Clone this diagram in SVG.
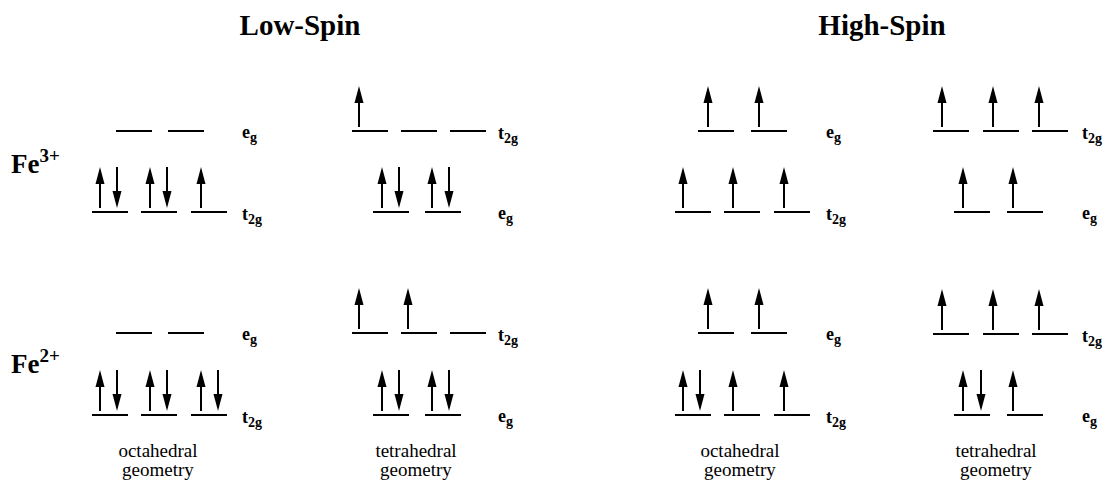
<svg xmlns="http://www.w3.org/2000/svg" xmlns:xlink="http://www.w3.org/1999/xlink" width="1110" height="482" viewBox="0 0 1110 482">
<style>
  .lvl { stroke: #000; stroke-width: 2; fill: none; }
  .title { font-family: "Liberation Serif", "Times New Roman", serif; font-weight: bold; font-size: 29px; fill: #000; }
  .ion { font-family: "Liberation Serif", "Times New Roman", serif; font-weight: bold; font-size: 27px; fill: #000; }
  .lab { font-family: "Liberation Serif", "Times New Roman", serif; font-weight: bold; font-size: 18px; fill: #000; }
  .geo { font-family: "Liberation Serif", "Times New Roman", serif; font-size: 19px; fill: #000; text-anchor: middle; }
</style>
<defs>
  <g id="up">
    <line x1="0" y1="-4" x2="0" y2="-30" stroke="#000" stroke-width="2"/>
    <polygon points="0,-45 -4.5,-28 4.5,-28" fill="#000"/>
  </g>
  <g id="dn">
    <line x1="0" y1="-45" x2="0" y2="-18" stroke="#000" stroke-width="2"/>
    <polygon points="0,-4 -4.5,-21 4.5,-21" fill="#000"/>
  </g>
</defs>

<text class="title" x="300" y="35" text-anchor="middle">Low-Spin</text>
<text class="title" x="882" y="35" text-anchor="middle">High-Spin</text>

<g id="fe3-label"><text class="ion" x="11" y="173">Fe<tspan font-size="19" dy="-11">3+</tspan></text></g>
<g id="fe2-label"><text class="ion" x="11" y="373">Fe<tspan font-size="19" dy="-11">2+</tspan></text></g>

<!-- Low-spin octahedral Fe3+ -->
<g id="ls-oct-fe3">
  <line class="lvl" x1="116" y1="131" x2="152" y2="131"/>
  <line class="lvl" x1="168" y1="131" x2="204" y2="131"/>
  <line class="lvl" x1="92" y1="212" x2="128" y2="212"/>
  <line class="lvl" x1="141" y1="212" x2="177" y2="212"/>
  <line class="lvl" x1="191" y1="212" x2="227" y2="212"/>
  <use xlink:href="#up" x="100" y="212"/><use xlink:href="#dn" x="117" y="212"/>
  <use xlink:href="#up" x="150" y="212"/><use xlink:href="#dn" x="167" y="212"/>
  <use xlink:href="#up" x="201" y="212"/>
  <text class="lab" x="242" y="138">e<tspan font-size="14" dy="4">g</tspan></text>
  <text class="lab" x="242" y="220">t<tspan font-size="14" dy="4">2g</tspan></text>
</g>

<!-- Low-spin octahedral Fe2+ -->
<g id="ls-oct-fe2">
  <line class="lvl" x1="116" y1="333" x2="152" y2="333"/>
  <line class="lvl" x1="168" y1="333" x2="204" y2="333"/>
  <line class="lvl" x1="92" y1="415" x2="128" y2="415"/>
  <line class="lvl" x1="141" y1="415" x2="177" y2="415"/>
  <line class="lvl" x1="191" y1="415" x2="227" y2="415"/>
  <use xlink:href="#up" x="100" y="415"/><use xlink:href="#dn" x="117" y="415"/>
  <use xlink:href="#up" x="150" y="415"/><use xlink:href="#dn" x="167" y="415"/>
  <use xlink:href="#up" x="201" y="415"/><use xlink:href="#dn" x="218" y="415"/>
  <text class="lab" x="242" y="340">e<tspan font-size="14" dy="4">g</tspan></text>
  <text class="lab" x="242" y="423">t<tspan font-size="14" dy="4">2g</tspan></text>
  <text class="geo" x="158" y="457">octahedral</text>
  <text class="geo" x="158" y="476">geometry</text>
</g>

<!-- Low-spin tetrahedral Fe3+ -->
<g id="ls-tet-fe3">
  <line class="lvl" x1="352" y1="131" x2="388" y2="131"/>
  <line class="lvl" x1="401" y1="131" x2="437" y2="131"/>
  <line class="lvl" x1="450" y1="131" x2="486" y2="131"/>
  <line class="lvl" x1="373" y1="212" x2="409" y2="212"/>
  <line class="lvl" x1="425" y1="212" x2="461" y2="212"/>
  <use xlink:href="#up" x="359" y="131"/>
  <use xlink:href="#up" x="382" y="212"/><use xlink:href="#dn" x="399" y="212"/>
  <use xlink:href="#up" x="432" y="212"/><use xlink:href="#dn" x="449" y="212"/>
  <text class="lab" x="498" y="139">t<tspan font-size="14" dy="4">2g</tspan></text>
  <text class="lab" x="498" y="219">e<tspan font-size="14" dy="4">g</tspan></text>
</g>

<!-- Low-spin tetrahedral Fe2+ -->
<g id="ls-tet-fe2">
  <line class="lvl" x1="352" y1="333" x2="388" y2="333"/>
  <line class="lvl" x1="401" y1="333" x2="437" y2="333"/>
  <line class="lvl" x1="450" y1="333" x2="486" y2="333"/>
  <line class="lvl" x1="373" y1="415" x2="409" y2="415"/>
  <line class="lvl" x1="425" y1="415" x2="461" y2="415"/>
  <use xlink:href="#up" x="359" y="333"/><use xlink:href="#up" x="408" y="333"/>
  <use xlink:href="#up" x="382" y="415"/><use xlink:href="#dn" x="399" y="415"/>
  <use xlink:href="#up" x="432" y="415"/><use xlink:href="#dn" x="449" y="415"/>
  <text class="lab" x="498" y="341">t<tspan font-size="14" dy="4">2g</tspan></text>
  <text class="lab" x="498" y="422">e<tspan font-size="14" dy="4">g</tspan></text>
  <text class="geo" x="416" y="457">tetrahedral</text>
  <text class="geo" x="416" y="476">geometry</text>
</g>

<!-- High-spin octahedral Fe3+ -->
<g id="hs-oct-fe3">
  <line class="lvl" x1="698" y1="131" x2="734" y2="131"/>
  <line class="lvl" x1="751" y1="131" x2="787" y2="131"/>
  <line class="lvl" x1="675" y1="212" x2="711" y2="212"/>
  <line class="lvl" x1="724" y1="212" x2="760" y2="212"/>
  <line class="lvl" x1="774" y1="212" x2="810" y2="212"/>
  <use xlink:href="#up" x="708" y="131"/><use xlink:href="#up" x="759" y="131"/>
  <use xlink:href="#up" x="683" y="212"/><use xlink:href="#up" x="733" y="212"/><use xlink:href="#up" x="784" y="212"/>
  <text class="lab" x="826" y="138">e<tspan font-size="14" dy="4">g</tspan></text>
  <text class="lab" x="826" y="220">t<tspan font-size="14" dy="4">2g</tspan></text>
</g>

<!-- High-spin octahedral Fe2+ -->
<g id="hs-oct-fe2">
  <line class="lvl" x1="698" y1="333" x2="734" y2="333"/>
  <line class="lvl" x1="751" y1="333" x2="787" y2="333"/>
  <line class="lvl" x1="675" y1="415" x2="711" y2="415"/>
  <line class="lvl" x1="724" y1="415" x2="760" y2="415"/>
  <line class="lvl" x1="774" y1="415" x2="810" y2="415"/>
  <use xlink:href="#up" x="708" y="333"/><use xlink:href="#up" x="759" y="333"/>
  <use xlink:href="#up" x="683" y="415"/><use xlink:href="#dn" x="700" y="415"/>
  <use xlink:href="#up" x="733" y="415"/><use xlink:href="#up" x="784" y="415"/>
  <text class="lab" x="826" y="340">e<tspan font-size="14" dy="4">g</tspan></text>
  <text class="lab" x="826" y="423">t<tspan font-size="14" dy="4">2g</tspan></text>
  <text class="geo" x="740" y="457">octahedral</text>
  <text class="geo" x="740" y="476">geometry</text>
</g>

<!-- High-spin tetrahedral Fe3+ -->
<g id="hs-tet-fe3">
  <line class="lvl" x1="933" y1="131" x2="969" y2="131"/>
  <line class="lvl" x1="983" y1="131" x2="1019" y2="131"/>
  <line class="lvl" x1="1032" y1="131" x2="1068" y2="131"/>
  <line class="lvl" x1="954" y1="212" x2="990" y2="212"/>
  <line class="lvl" x1="1007" y1="212" x2="1043" y2="212"/>
  <use xlink:href="#up" x="942" y="131"/><use xlink:href="#up" x="993" y="131"/><use xlink:href="#up" x="1039" y="131"/>
  <use xlink:href="#up" x="963" y="212"/><use xlink:href="#up" x="1013" y="212"/>
  <text class="lab" x="1082" y="139">t<tspan font-size="14" dy="4">2g</tspan></text>
  <text class="lab" x="1082" y="219">e<tspan font-size="14" dy="4">g</tspan></text>
</g>

<!-- High-spin tetrahedral Fe2+ -->
<g id="hs-tet-fe2">
  <line class="lvl" x1="933" y1="334" x2="969" y2="334"/>
  <line class="lvl" x1="983" y1="334" x2="1019" y2="334"/>
  <line class="lvl" x1="1032" y1="334" x2="1068" y2="334"/>
  <line class="lvl" x1="954" y1="415" x2="990" y2="415"/>
  <line class="lvl" x1="1007" y1="415" x2="1043" y2="415"/>
  <use xlink:href="#up" x="942" y="334"/><use xlink:href="#up" x="993" y="334"/><use xlink:href="#up" x="1039" y="334"/>
  <use xlink:href="#up" x="963" y="415"/><use xlink:href="#dn" x="981" y="415"/>
  <use xlink:href="#up" x="1013" y="415"/>
  <text class="lab" x="1082" y="342">t<tspan font-size="14" dy="4">2g</tspan></text>
  <text class="lab" x="1082" y="422">e<tspan font-size="14" dy="4">g</tspan></text>
  <text class="geo" x="996" y="457">tetrahedral</text>
  <text class="geo" x="996" y="476">geometry</text>
</g>
</svg>
